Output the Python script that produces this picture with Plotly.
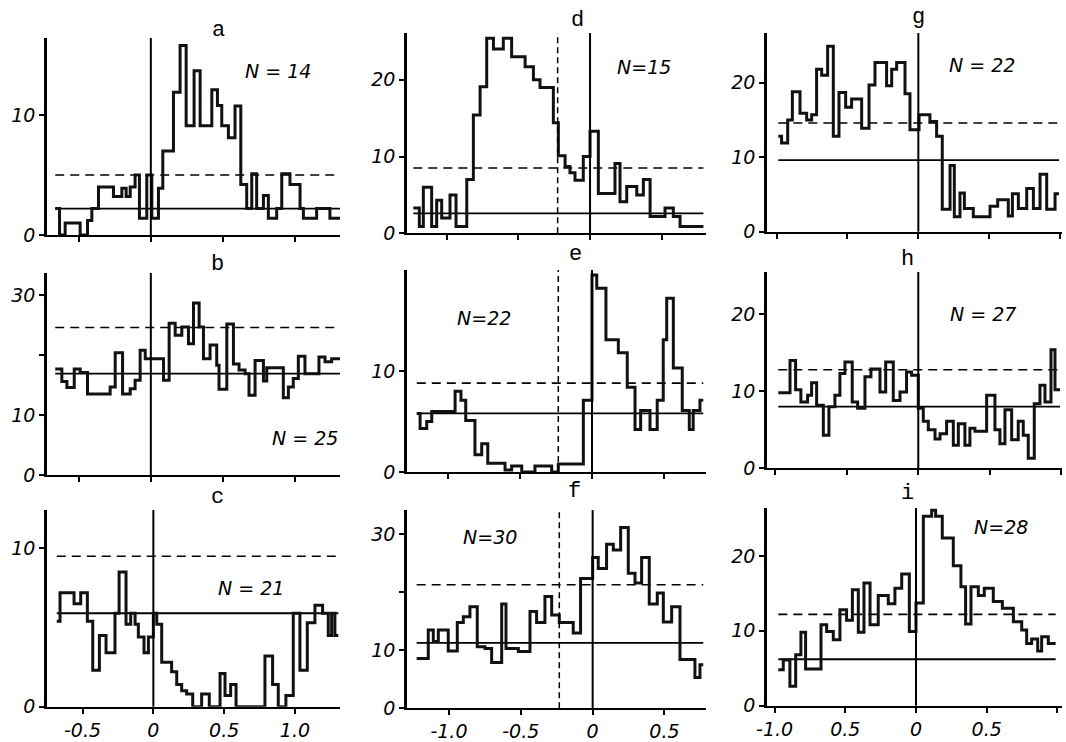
import plotly.graph_objects as go

# ---------------- data ----------------
# Each histogram: bin edges (time axis units) and counts per bin.
a_edges = [-0.663, -0.633, -0.594, -0.490, -0.439, -0.409, -0.363, -0.259, -0.201, -0.171,
           -0.143, -0.109, -0.079, -0.028, 0.007, 0.053, 0.083, 0.157, 0.203, 0.245,
           0.300, 0.342, 0.423, 0.462, 0.492, 0.538, 0.584, 0.624, 0.665, 0.700,
           0.734, 0.781, 0.815, 0.873, 0.908, 0.965, 1.035, 1.058, 1.150, 1.242, 1.312]
a_counts = [2.2, 0, 1.0, 0, 1.2, 2.2, 4.0, 3.2, 3.9, 3.2,
            4.0, 5.0, 1.4, 5.0, 1.4, 3.9, 7.0, 11.9, 15.8, 9.1,
            13.7, 9.1, 12.1, 10.8, 9.1, 8.1, 10.75, 4.2, 2.2, 5.1,
            2.2, 3.3, 1.4, 2.2, 5.1, 4.2, 2.2, 1.4, 2.2, 1.4]
a_solid, a_dashed = 2.2, 5.0

b_edges = [-0.663, -0.617, -0.582, -0.531, -0.490, -0.439, -0.282, -0.247, -0.196, -0.143,
           -0.109, -0.074, -0.039, 0.088, 0.127, 0.169, 0.215, 0.261, 0.296, 0.335,
           0.365, 0.411, 0.457, 0.473, 0.527, 0.573, 0.612, 0.654, 0.681, 0.723,
           0.781, 0.804, 0.919, 0.954, 0.988, 1.023, 1.069, 1.166, 1.208, 1.254, 1.312]
b_counts = [17.7, 15.6, 14.6, 17.7, 17.1, 13.5, 14.7, 20.4, 13.5, 14.4,
            15.8, 20.8, 19.4, 15.8, 25.3, 23.3, 24.7, 21.9, 28.7, 24.7,
            19.4, 21.7, 18.3, 14.3, 25.2, 18.5, 17.5, 16.9, 13.3, 19.1,
            15.7, 17.9, 12.9, 14.7, 16.1, 19.8, 16.9, 19.7, 18.9, 19.4]
b_solid, b_dashed = 16.9, 24.6

c_edges = [-0.682, -0.659, -0.560, -0.513, -0.466, -0.428, -0.381, -0.334, -0.271, -0.242,
           -0.193, -0.160, -0.129, -0.106, -0.066, -0.035, 0.000, 0.024, 0.059, 0.129,
           0.165, 0.200, 0.235, 0.278, 0.341, 0.395, 0.471, 0.506, 0.546, 0.584,
           0.788, 0.842, 0.882, 0.936, 0.988, 1.035, 1.087, 1.141, 1.195, 1.235,
           1.259, 1.282, 1.306]
c_counts = [5.4, 7.2, 6.5, 7.2, 5.4, 2.3, 4.5, 3.4, 5.9, 8.5,
            5.2, 5.9, 5.2, 4.4, 3.4, 4.4, 5.9, 5.2, 2.8, 2.2,
            1.4, 1.0, 0.8, 0, 0.8, 0, 2.1, 0.7, 1.4, 0,
            3.2, 1.4, 0, 0.7, 5.9, 2.3, 5.3, 6.4, 5.9, 4.5,
            5.9, 4.5]
c_solid, c_dashed = 5.9, 9.5

d_edges = [-1.233, -1.191, -1.163, -1.105, -1.070, -1.035, -0.977, -0.935, -0.860, -0.814,
           -0.767, -0.721, -0.674, -0.605, -0.547, -0.453, -0.395, -0.349, -0.256, -0.221,
           -0.174, -0.140, -0.105, -0.047, 0.000, 0.058, 0.174, 0.209, 0.256, 0.326,
           0.372, 0.419, 0.523, 0.581, 0.628, 0.791]
d_counts = [3.3, 0.9, 6.0, 0.9, 4.3, 2.0, 5.0, 0.9, 7.0, 15.4,
            19.1, 25.4, 24.0, 25.4, 23.0, 21.7, 20.0, 19.0, 14.4, 10.1,
            8.7, 7.9, 6.9, 10.0, 13.3, 5.2, 9.1, 4.1, 6.1, 5.0,
            7.0, 2.2, 3.3, 2.2, 0.9]
d_solid, d_dashed, d_vmark = 2.6, 8.5, -0.226

e_edges = [-1.217, -1.194, -1.148, -1.113, -0.951, -0.910, -0.877, -0.813, -0.766, -0.724,
           -0.604, -0.558, -0.488, -0.396, -0.280, -0.234, -0.060, 0.000, 0.033, 0.097,
           0.183, 0.245, 0.299, 0.338, 0.403, 0.453, 0.495, 0.519, 0.565, 0.627,
           0.676, 0.703, 0.750, 0.773]
e_counts = [5.8, 4.3, 5.0, 6.0, 8.0, 7.1, 5.1, 1.7, 2.8, 0.86,
            0.2, 0.6, 0, 0.6, 0, 0.8, 7.1, 19.5, 18.2, 13.1,
            11.8, 8.4, 4.2, 6.1, 4.2, 7.1, 13.1, 17.2, 10.3, 6.1,
            4.2, 6.1, 7.1]
e_solid, e_dashed, e_vmark = 5.8, 8.8, -0.234

f_edges = [-1.225, -1.144, -1.109, -1.074, -1.005, -0.942, -0.900, -0.854, -0.803, -0.749,
           -0.703, -0.633, -0.603, -0.517, -0.436, -0.390, -0.332, -0.285, -0.232, -0.135,
           -0.084, 0.000, 0.039, 0.097, 0.144, 0.195, 0.248, 0.295, 0.341, 0.394,
           0.450, 0.492, 0.550, 0.608, 0.712, 0.747, 0.770]
f_counts = [8.6, 13.5, 11.5, 13.5, 9.9, 14.8, 15.8, 17.5, 10.6, 10.3,
            7.9, 18.0, 10.3, 9.8, 16.7, 14.8, 19.3, 16.1, 14.8, 13.0,
            22.4, 26.0, 24.1, 28.3, 27.3, 31.2, 23.3, 21.6, 26.0, 18.0,
            19.9, 14.9, 17.5, 8.4, 5.3, 7.5]
f_solid, f_dashed, f_vmark = 11.3, 21.3, -0.232

g_edges = [-0.988, -0.965, -0.922, -0.889, -0.835, -0.788, -0.753, -0.718, -0.682, -0.640,
           -0.600, -0.560, -0.513, -0.471, -0.400, -0.348, -0.306, -0.224, -0.188, -0.153,
           -0.094, -0.059, 0.005, 0.082, 0.129, 0.169, 0.224, 0.254, 0.294, 0.325,
           0.388, 0.506, 0.560, 0.635, 0.664, 0.706, 0.765, 0.812, 0.859, 0.906,
           0.965, 0.993]
g_counts = [12.8, 11.9, 15.0, 18.8, 15.9, 15.0, 15.7, 21.8, 21.0, 24.9,
            12.8, 18.7, 16.7, 17.8, 13.9, 19.7, 22.7, 19.6, 21.8, 22.7,
            18.5, 13.7, 15.7, 14.8, 12.8, 3.0, 8.9, 2.0, 5.2, 3.1,
            2.0, 3.4, 4.3, 2.1, 5.1, 3.1, 5.8, 3.1, 7.7, 3.0,
            5.1]
g_solid, g_dashed = 9.6, 14.6

h_edges = [-0.979, -0.897, -0.858, -0.821, -0.774, -0.746, -0.711, -0.664, -0.625, -0.583,
           -0.548, -0.513, -0.462, -0.424, -0.373, -0.331, -0.268, -0.228, -0.175, -0.128,
           -0.082, -0.047, 0.000, 0.035, 0.070, 0.117, 0.152, 0.198, 0.245, 0.280,
           0.326, 0.361, 0.396, 0.478, 0.536, 0.571, 0.606, 0.653, 0.699, 0.734,
           0.769, 0.811, 0.851, 0.886, 0.928, 0.956, 0.991]
h_counts = [9.8, 14.0, 10.2, 8.6, 9.5, 11.1, 8.2, 4.3, 8.0, 9.5,
            12.3, 13.8, 8.6, 7.8, 11.9, 12.9, 9.9, 13.8, 8.8, 9.9,
            12.5, 12.1, 7.8, 6.1, 5.0, 3.8, 4.5, 6.1, 3.0, 5.8,
            3.0, 5.2, 4.8, 9.5, 5.0, 3.2, 7.6, 3.7, 6.1, 4.3,
            1.3, 8.4, 10.8, 8.6, 15.4, 10.2]
h_solid, h_dashed = 8.0, 12.8

i_edges = [-0.974, -0.939, -0.892, -0.851, -0.814, -0.781, -0.672, -0.632, -0.585, -0.538,
           -0.491, -0.450, -0.408, -0.368, -0.325, -0.267, -0.196, -0.149, -0.101, -0.047,
           0.000, 0.052, 0.111, 0.139, 0.186, 0.264, 0.318, 0.351, 0.389, 0.441,
           0.483, 0.547, 0.611, 0.689, 0.748, 0.783, 0.818, 0.861, 0.889, 0.936,
           0.988]
i_counts = [4.8, 6.1, 2.6, 6.8, 9.8, 4.9, 10.8, 9.9, 8.8, 12.8,
            11.4, 15.5, 9.8, 16.4, 10.8, 14.7, 13.6, 15.7, 17.6, 9.9,
            13.7, 25.3, 26.1, 25.3, 22.4, 18.7, 15.9, 10.9, 15.9, 14.7,
            15.7, 13.9, 13.0, 11.2, 10.1, 8.3, 8.9, 7.3, 9.2, 8.3]
i_solid, i_dashed = 6.2, 12.2

n_labels = ["N = 14", "N = 25", "N = 21", "N=15", "N=22", "N=30", "N = 22", "N = 27", "N=28"]
panel_letters = ["a", "b", "c", "d", "e", "f", "g", "h", "i"]

col1_xticks = [-0.5, 0, 0.5, 1.0]
col1_xlabels = ["-0.5", "0", "0.5", "1.0"]
col2_xticks = [-1.0, -0.5, 0, 0.5]
col2_xlabels = ["-1.0", "-0.5", "0", "0.5"]
col3_xticks = [-1.0, -0.5, 0, 0.5, 1.0]
col3_xlabels = ["-1.0", "0.5", "0", "0.5", "1.0"]

# ---------------- layout ----------------
W, H = 1066, 742

panels = [
    dict(edges=a_edges, counts=a_counts, solid=a_solid, dashed=a_dashed, vmark=None,
         xr=[-0.72, 1.312], yr=[0, 16.42], xd=(47, 340), yd=(38, 235),
         yt=[0, 10], ytt=["0", "10"], xt=col1_xticks, xtt=None,
         lpos=(218, 30), npos=(278, 71)),
    dict(edges=b_edges, counts=b_counts, solid=b_solid, dashed=b_dashed, vmark=None,
         xr=[-0.72, 1.312], yr=[0, 33.7], xd=(47, 340), yd=(273, 475),
         yt=[0, 10, 20, 30], ytt=["0", "10", "", "30"], xt=col1_xticks, xtt=None,
         lpos=(217, 264), npos=(305, 438)),
    dict(edges=c_edges, counts=c_counts, solid=c_solid, dashed=c_dashed, vmark=None,
         xr=[-0.751, 1.318], yr=[0, 12.42], xd=(47, 340), yd=(510, 706.7),
         yt=[0, 10], ytt=["0", "10"], xt=col1_xticks, xtt=col1_xlabels,
         lpos=(217, 497), npos=(251, 588)),
    dict(edges=d_edges, counts=d_counts, solid=d_solid, dashed=d_dashed, vmark=d_vmark,
         xr=[-1.277, 0.809], yr=[0, 26.1], xd=(407, 706), yd=(33, 233.3),
         yt=[0, 10, 20], ytt=["0", "10", "20"], xt=col2_xticks, xtt=None,
         lpos=(577, 21), npos=(644, 67)),
    dict(edges=e_edges, counts=e_counts, solid=e_solid, dashed=e_dashed, vmark=e_vmark,
         xr=[-1.285, 0.792], yr=[0, 20], xd=(407, 706), yd=(270, 472),
         yt=[0, 10], ytt=["0", "10"], xt=col2_xticks, xtt=None,
         lpos=(575, 254), npos=(484, 318)),
    dict(edges=f_edges, counts=f_counts, solid=f_solid, dashed=f_dashed, vmark=f_vmark,
         xr=[-1.292, 0.789], yr=[0, 34.2], xd=(407, 706), yd=(510, 708.3),
         yt=[0, 10, 20, 30], ytt=["0", "10", "", "30"], xt=col2_xticks, xtt=col2_xlabels,
         lpos=(574, 491), npos=(490, 537)),
    dict(edges=g_edges, counts=g_counts, solid=g_solid, dashed=g_dashed, vmark=None,
         xr=[-1.068, 1.014], yr=[0, 26.67], xd=(767, 1062), yd=(33, 231.7),
         yt=[0, 10, 20], ytt=["0", "10", "20"], xt=col3_xticks, xtt=None,
         lpos=(918, 17), npos=(982, 65)),
    dict(edges=h_edges, counts=h_counts, solid=h_solid, dashed=h_dashed, vmark=None,
         xr=[-1.058, 1.005], yr=[0, 25.5], xd=(767, 1062), yd=(272, 468.3),
         yt=[0, 10, 20], ytt=["0", "10", "20"], xt=col3_xticks, xtt=None,
         lpos=(907, 259), npos=(983, 314)),
    dict(edges=i_edges, counts=i_counts, solid=i_solid, dashed=i_dashed, vmark=None,
         xr=[-1.054, 1.033], yr=[0, 26.4], xd=(767, 1062), yd=(508, 705.7),
         yt=[0, 10, 20], ytt=["0", "10", "20"], xt=col3_xticks, xtt=col3_xlabels,
         lpos=(907, 494), npos=(1001, 527)),
]

tickfont = dict(family="DejaVu Sans", size=19, color="black", style="italic")
nfont = dict(family="DejaVu Sans", size=19, color="black", style="italic")
letterfont = dict(family="Liberation Mono", size=22, color="black")

fig = go.Figure()
axes = {}
shapes = []
annotations = []

for k, p in enumerate(panels, start=1):
    xa = "x" if k == 1 else f"x{k}"
    ya = "y" if k == 1 else f"y{k}"
    xkey = "xaxis" if k == 1 else f"xaxis{k}"
    ykey = "yaxis" if k == 1 else f"yaxis{k}"

    x0, x1 = p["edges"][0], p["edges"][-1]
    fig.add_trace(go.Scatter(x=[x0, x1], y=[p["dashed"], p["dashed"]], mode="lines",
                             line=dict(color="black", width=1.6, dash="9px,6px"),
                             xaxis=xa, yaxis=ya, hoverinfo="skip"))
    fig.add_trace(go.Scatter(x=[x0, x1], y=[p["solid"], p["solid"]], mode="lines",
                             line=dict(color="black", width=1.8),
                             xaxis=xa, yaxis=ya, hoverinfo="skip"))
    fig.add_trace(go.Scatter(x=p["edges"], y=list(p["counts"]) + [p["counts"][-1]],
                             mode="lines", line=dict(color="#111111", width=3.0, shape="hv"),
                             xaxis=xa, yaxis=ya))

    shapes.append(dict(type="line", xref=xa, yref=f"{ya} domain", x0=0, x1=0, y0=0, y1=1,
                       line=dict(color="black", width=2)))
    if p["vmark"] is not None:
        shapes.append(dict(type="line", xref=xa, yref=f"{ya} domain",
                           x0=p["vmark"], x1=p["vmark"], y0=0, y1=1,
                           line=dict(color="black", width=1.5, dash="6px,4px")))

    axes[xkey] = dict(domain=[p["xd"][0] / W, p["xd"][1] / W], range=p["xr"], anchor=ya,
                      automargin=False,
                      showline=True, linecolor="black", linewidth=2.2,
                      ticks="outside", ticklen=5, tickwidth=2, tickcolor="black",
                      tickvals=p["xt"],
                      ticktext=p["xtt"] if p["xtt"] else [""] * len(p["xt"]),
                      tickfont=tickfont, showgrid=False, zeroline=False, fixedrange=True)
    axes[ykey] = dict(domain=[1 - p["yd"][1] / H, 1 - p["yd"][0] / H], range=p["yr"], anchor=xa,
                      automargin=False,
                      showline=True, linecolor="black", linewidth=2.6,
                      ticks="outside", ticklen=5, tickwidth=2, tickcolor="black",
                      tickvals=p["yt"], ticktext=p["ytt"],
                      tickfont=tickfont, showgrid=False, zeroline=False, fixedrange=True)

    annotations.append(dict(text=panel_letters[k - 1], xref="paper", yref="paper",
                            x=p["lpos"][0] / W, y=1 - p["lpos"][1] / H,
                            xanchor="center", yanchor="middle", showarrow=False, font=letterfont))
    annotations.append(dict(text=n_labels[k - 1], xref="paper", yref="paper",
                            x=p["npos"][0] / W, y=1 - p["npos"][1] / H,
                            xanchor="center", yanchor="middle", showarrow=False, font=nfont))

fig.update_layout(width=W, height=H, margin=dict(l=0, r=0, t=0, b=0, autoexpand=False),
                  paper_bgcolor="white", plot_bgcolor="white", showlegend=False,
                  shapes=shapes, annotations=annotations, **axes)

fig.write_html("out.html", config={"displayModeBar": False},
               post_script="document.body.style.margin='0';document.body.style.overflow='hidden';")
